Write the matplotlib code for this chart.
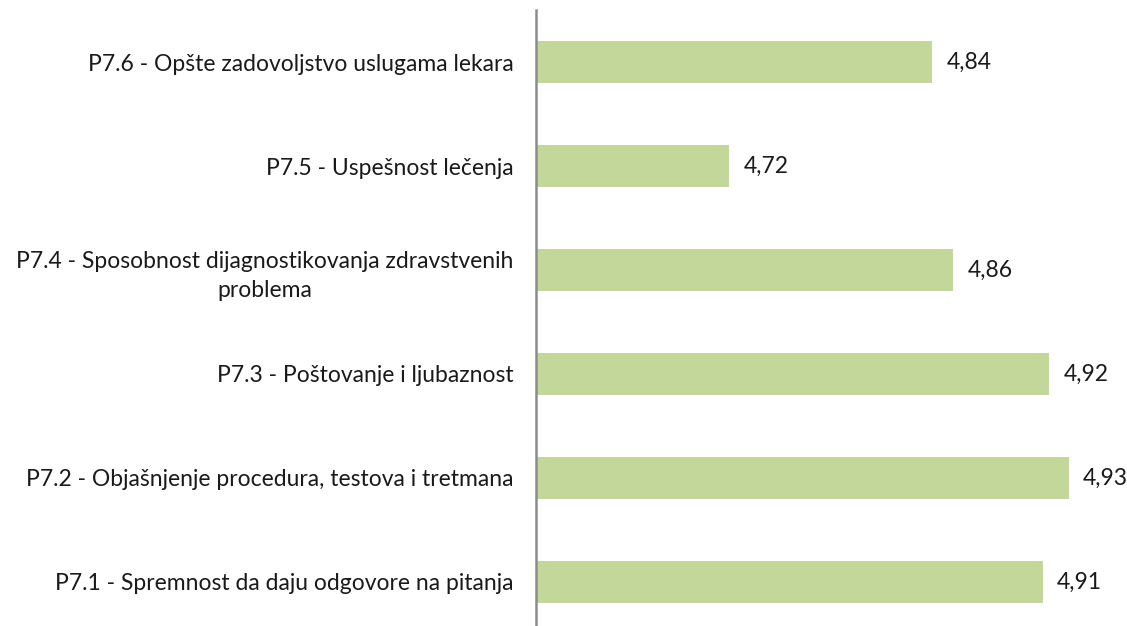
import matplotlib.pyplot as plt

# categories top to bottom as in the picture
labels = [
    'P7.6 - Opšte zadovoljstvo uslugama lekara',
    'P7.5 - Uspešnost lečenja',
    'P7.4 - Sposobnost dijagnostikovanja zdravstvenih\nproblema',
    'P7.3 - Poštovanje i ljubaznost',
    'P7.2 - Objašnjenje procedura, testova i tretmana',
    'P7.1 - Spremnost da daju odgovore na pitanja',
]
values = [4.844, 4.719, 4.857, 4.916, 4.928, 4.912]

plt.rcParams['font.family'] = ['Lato', 'DejaVu Sans']

W, H = 1127, 626
fig = plt.figure(figsize=(W / 100, H / 100), dpi=100)
# axis line sits at x~536 px, bands of ~104 px starting near the top
ax = fig.add_axes([535.5 / W, (H - 634) / H, (W - 535.5) / W, 624 / H])

xmin = 4.6
xmax = xmin + (W - 535.5) / 1625
ypos = list(range(len(values)))
ax.barh(ypos, [v - xmin for v in values], left=xmin, height=0.4,
        color='#C4D79B', zorder=2)

for y, v in zip(ypos, values):
    ax.text(v + 0.009, y, f'{v:.2f}'.replace('.', ','), va='center', ha='left',
            fontsize=16.5, color='#1a1a1a')

ax.set_xlim(xmin, xmax)
ax.set_ylim(len(values) - 0.5, -0.5)
ax.set_yticks(ypos)
ax.set_yticklabels(labels, fontsize=16.5, color='#1a1a1a',
                   multialignment='center', linespacing=1.45)
ax.tick_params(axis='y', length=0, pad=16)
ax.set_xticks([])
for side in ['top', 'right', 'bottom']:
    ax.spines[side].set_visible(False)
ax.spines['left'].set_color('#8c8c8c')
ax.spines['left'].set_linewidth(1.8)

fig.savefig('out.png', dpi=100)
